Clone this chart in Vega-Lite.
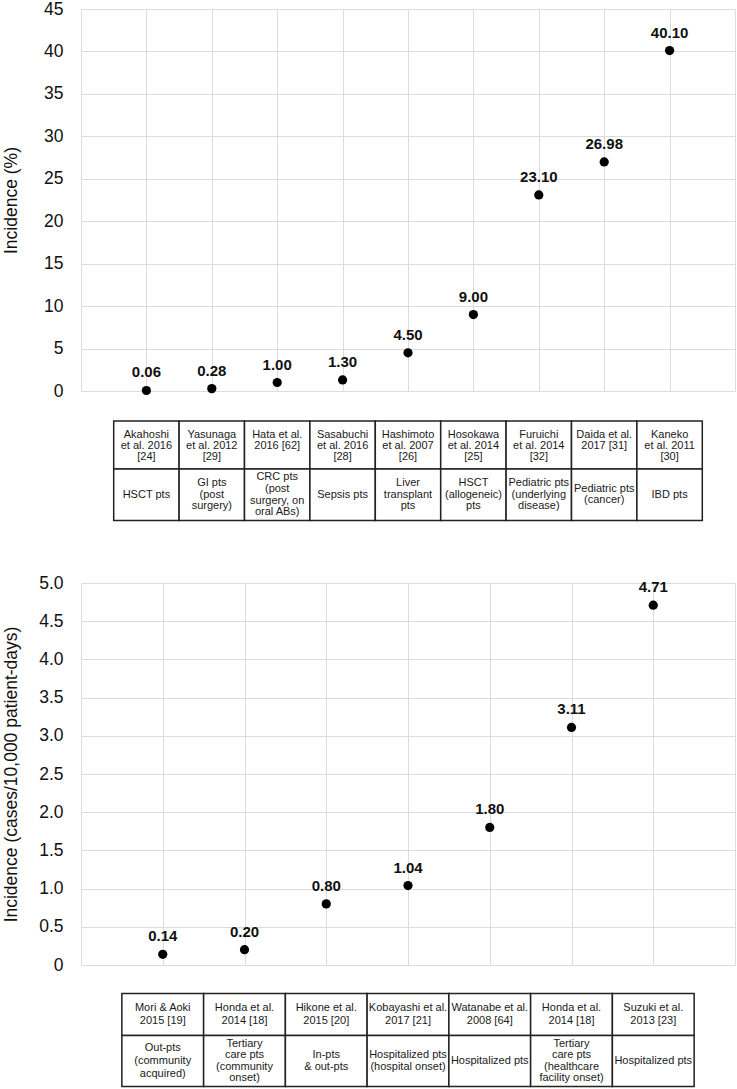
{
  "$schema": "https://vega.github.io/schema/vega-lite/v6.json",
  "padding": {"left": 2, "top": 0, "right": 2, "bottom": 0},
  "config": {
    "font": "Liberation Sans",
    "view": {"stroke": null},
    "axis": {"gridColor": "#dcdcdc", "gridWidth": 1, "labelColor": "#111", "titleColor": "#111"},
    "text": {"fontSize": 11, "color": "#1a1a1a", "lineBreak": "\n", "baseline": "middle"},
    "rect": {"fill": "white", "stroke": "#222", "strokeWidth": 1.5}
  },
  "datasets": {
    "s1": [
      {"n": 1, "study": "Akahoshi\net al. 2016\n[24]", "population": "HSCT pts", "incidence": 0.06},
      {"n": 2, "study": "Yasunaga\net al. 2012\n[29]", "population": "GI pts\n(post\nsurgery)", "incidence": 0.28},
      {"n": 3, "study": "Hata et al.\n2016 [62]", "population": "CRC pts\n(post\nsurgery, on\noral ABs)", "incidence": 1.00},
      {"n": 4, "study": "Sasabuchi\net al. 2016\n[28]", "population": "Sepsis pts", "incidence": 1.30},
      {"n": 5, "study": "Hashimoto\net al. 2007\n[26]", "population": "Liver\ntransplant\npts", "incidence": 4.50},
      {"n": 6, "study": "Hosokawa\net al. 2014\n[25]", "population": "HSCT\n(allogeneic)\npts", "incidence": 9.00},
      {"n": 7, "study": "Furuichi\net al. 2014\n[32]", "population": "Pediatric pts\n(underlying\ndisease)", "incidence": 23.10},
      {"n": 8, "study": "Daida et al.\n2017 [31]", "population": "Pediatric pts\n(cancer)", "incidence": 26.98},
      {"n": 9, "study": "Kaneko\net al. 2011\n[30]", "population": "IBD pts", "incidence": 40.10}
    ],
    "s2": [
      {"n": 1, "study": "Mori & Aoki\n2015 [19]", "population": "Out-pts\n(community\nacquired)", "incidence": 0.14},
      {"n": 2, "study": "Honda et al.\n2014 [18]", "population": "Tertiary\ncare pts\n(community\nonset)", "incidence": 0.20},
      {"n": 3, "study": "Hikone et al.\n2015 [20]", "population": "In-pts\n& out-pts", "incidence": 0.80},
      {"n": 4, "study": "Kobayashi et al.\n2017 [21]", "population": "Hospitalized pts\n(hospital onset)", "incidence": 1.04},
      {"n": 5, "study": "Watanabe et al.\n2008 [64]", "population": "Hospitalized pts", "incidence": 1.80},
      {"n": 6, "study": "Honda et al.\n2014 [18]", "population": "Tertiary\ncare pts\n(healthcare\nfacility onset)", "incidence": 3.11},
      {"n": 7, "study": "Suzuki et al.\n2013 [23]", "population": "Hospitalized pts", "incidence": 4.71}
    ]
  },
  "vconcat": [
    {
      "spacing": 20,
      "vconcat": [
        {
          "width": 654,
          "height": 382,
          "data": {"name": "s1"},
          "encoding": {
            "x": {"field": "n", "type": "quantitative", "scale": {"domain": [0, 10], "nice": false},
                  "axis": {"values": [0,1,2,3,4,5,6,7,8,9,10], "labels": false, "ticks": false, "domain": false, "title": null, "grid": true}},
            "y": {"field": "incidence", "type": "quantitative", "scale": {"domain": [0, 45], "nice": false},
                  "axis": {"title": "Incidence (%)", "values": [0,5,10,15,20,25,30,35,40,45], "grid": true, "ticks": false, "tickSize": 0, "domain": false,
                           "labelPadding": 18, "labelFontSize": 17.5, "titleFontSize": 17.5, "titleFontWeight": "normal", "titlePadding": 18,
                           "minExtent": 43, "maxExtent": 43}}
          },
          "layer": [
            {"mark": {"type": "circle", "size": 85, "color": "#000", "opacity": 1}},
            {"mark": {"type": "text", "fontWeight": "bold", "fontSize": 15, "dy": -18, "baseline": "middle", "color": "#111"},
             "encoding": {"text": {"field": "incidence", "type": "quantitative", "format": ".2f"}}}
          ]
        },
        {
          "spacing": 0,
          "bounds": "flush",
          "vconcat": [
            {
              "width": 654,
              "height": 48,
              "data": {"name": "s1"},
              "encoding": {
                "x": {"field": "n", "type": "ordinal", "scale": {"paddingInner": 0, "paddingOuter": 0.5}, "axis": null}
              },
              "layer": [
                {"mark": {"type": "rect"}},
                {"mark": {"type": "text", "lineHeight": 11.4, "baseline": "top", "dy": -16.5},
                 "encoding": {"text": {"field": "study"}}}
              ]
            },
            {
              "width": 654,
              "height": 51.5,
              "data": {"name": "s1"},
              "encoding": {
                "x": {"field": "n", "type": "ordinal", "scale": {"paddingInner": 0, "paddingOuter": 0.5}, "axis": null},
                "text": {"field": "population"}
              },
              "layer": [
                {"mark": {"type": "rect"}},
                {"transform": [{"filter": "length(split(datum.population, '\\n')) == 1"}],
                 "mark": {"type": "text", "lineHeight": 11.6}},
                {"transform": [{"filter": "length(split(datum.population, '\\n')) == 2"}],
                 "mark": {"type": "text", "lineHeight": 11.4, "dy": -5.7}},
                {"transform": [{"filter": "length(split(datum.population, '\\n')) == 3"}],
                 "mark": {"type": "text", "lineHeight": 11.7, "dy": -11.7}},
                {"transform": [{"filter": "length(split(datum.population, '\\n')) == 4"}],
                 "mark": {"type": "text", "lineHeight": 11.6, "dy": -17.4}}
              ]
            }
          ]
        }
      ]
    },
    {
      "spacing": 18.5,
      "vconcat": [
        {
          "width": 654,
          "height": 382,
          "data": {"name": "s2"},
          "encoding": {
            "x": {"field": "n", "type": "quantitative", "scale": {"domain": [0, 8], "nice": false},
                  "axis": {"values": [0,1,2,3,4,5,6,7,8], "labels": false, "ticks": false, "domain": false, "title": null, "grid": true}},
            "y": {"field": "incidence", "type": "quantitative", "scale": {"domain": [0, 5], "nice": false},
                  "axis": {"title": "Incidence (cases/10,000 patient-days)", "values": [0,0.5,1,1.5,2,2.5,3,3.5,4,4.5,5], "grid": true, "ticks": false, "tickSize": 0, "domain": false,
                           "labelExpr": "datum.value === 0 ? '0' : format(datum.value, '.1f')",
                           "labelPadding": 18, "labelFontSize": 17.5, "titleFontSize": 17.5, "titleFontWeight": "normal", "titlePadding": 18,
                           "minExtent": 43, "maxExtent": 43}}
          },
          "layer": [
            {"mark": {"type": "circle", "size": 85, "color": "#000", "opacity": 1}},
            {"mark": {"type": "text", "fontWeight": "bold", "fontSize": 15, "dy": -18, "baseline": "middle", "color": "#111"},
             "encoding": {"text": {"field": "incidence", "type": "quantitative", "format": ".2f"}}}
          ]
        },
        {
          "spacing": 0,
          "bounds": "flush",
          "vconcat": [
            {
              "width": 654,
              "height": 42,
              "data": {"name": "s2"},
              "encoding": {
                "x": {"field": "n", "type": "ordinal", "scale": {"paddingInner": 0, "paddingOuter": 0.5}, "axis": null}
              },
              "layer": [
                {"mark": {"type": "rect"}},
                {"mark": {"type": "text", "lineHeight": 13, "dy": -6.5},
                 "encoding": {"text": {"field": "study"}}}
              ]
            },
            {
              "width": 654,
              "height": 51,
              "data": {"name": "s2"},
              "encoding": {
                "x": {"field": "n", "type": "ordinal", "scale": {"paddingInner": 0, "paddingOuter": 0.5}, "axis": null},
                "text": {"field": "population"}
              },
              "layer": [
                {"mark": {"type": "rect"}},
                {"transform": [{"filter": "length(split(datum.population, '\\n')) == 1"}],
                 "mark": {"type": "text", "lineHeight": 12.5}},
                {"transform": [{"filter": "length(split(datum.population, '\\n')) == 2"}],
                 "mark": {"type": "text", "lineHeight": 12.5, "dy": -6.25}},
                {"transform": [{"filter": "length(split(datum.population, '\\n')) == 3"}],
                 "mark": {"type": "text", "lineHeight": 13.2, "dy": -13.2}},
                {"transform": [{"filter": "length(split(datum.population, '\\n')) == 4"}],
                 "mark": {"type": "text", "lineHeight": 11.2, "dy": -16.8}}
              ]
            }
          ]
        }
      ]
    }
  ],
  "spacing": 52
}
